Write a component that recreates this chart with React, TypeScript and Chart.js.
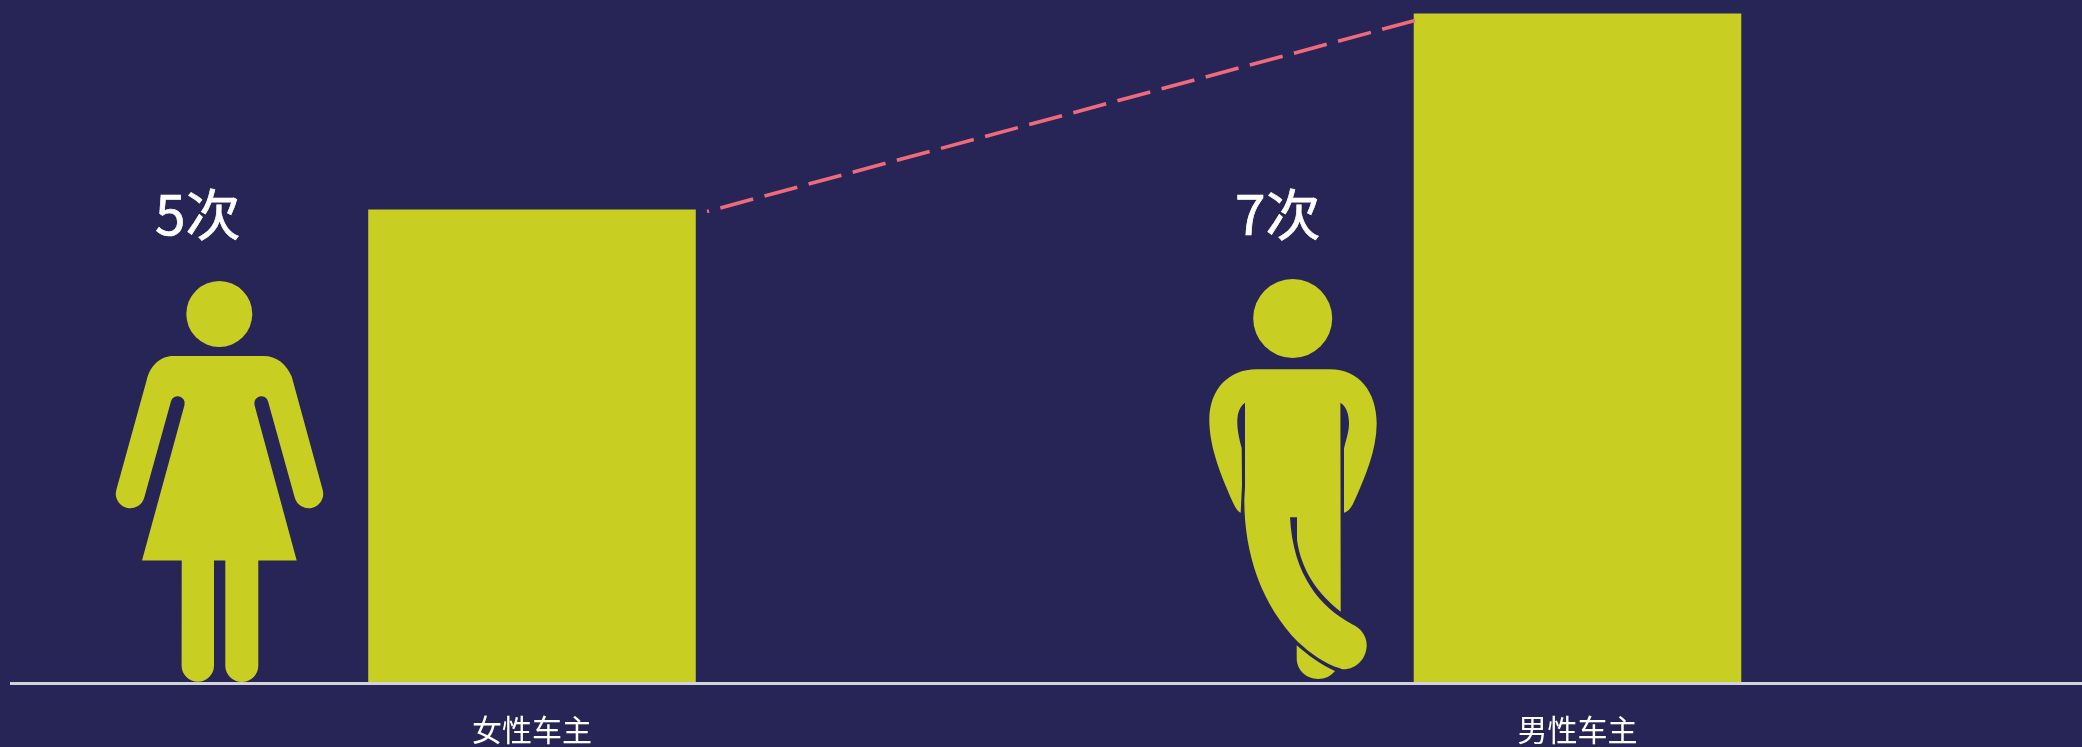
import React, { useEffect, useRef } from "react";
import { Chart, registerables } from "chart.js";

Chart.register(...registerables);

// ---- data ----
const categories = ["女性车主", "男性车主"];
const barValues = [4.95, 7.0];
const countLabels = ["5次", "7次"];
const connectorX = [0.1674, 0.8455];
const connectorY = [4.93, 6.93];

// ---- styling ----
const BG = "#272456";
const BAR = "#c8ce22";
const LINE = "#ef6b7c";
const AXIS = "#d2d2da";
const FONT = '"Noto Sans CJK SC", "Noto Sans", sans-serif';

// pictograms (page pixels)
const womanHead = { x: 219.3, y: 314, r: 33 };
const womanBody =
  "M173.3 356 L263.3 356 C277 356 286 364 291.7 376.6 L322.7 489.9 A14.5 14.5 0 0 1 294.7 497.5 L268 401.2 A7 7 0 0 0 254.5 404.9 L296.7 560.5 L258.3 560.5 L258.3 665.5 A16.5 16.5 0 0 1 225.3 665.5 L225.3 560.5 L214 560.5 L214 665.5 A16.2 16.2 0 0 1 181.6 665.5 L181.7 560.5 L142 560.5 L184.5 404.9 A7 7 0 0 0 171 401.2 L144.3 497.5 A14.5 14.5 0 0 1 116.3 489.9 L146.7 380 C150 366 160 356 173.3 356 Z";
const manHead = { x: 1292.7, y: 318.4, r: 39.5 };
const manBody =
  "M1256.7 369.3 C1228 369.3 1209.3 390 1209.3 420 C1209.3 448 1222 478 1233.3 503.3 C1235.5 508 1238 512 1240.7 512.7 L1242 485 L1241.7 448.3 C1239 438 1237.3 430 1237.3 421.7 C1237.3 413 1240 406 1245 402.7 L1245 487 L1244.3 500 C1244.3 555 1262 605 1298 642 C1310 653 1325 664 1340 668.3 C1341 669.2 1342 669.3 1343.3 669.3 C1357 669.3 1366.7 658 1366.7 645 C1366.7 636 1361 628 1351.7 624 C1320 607 1293 575 1290 517.3 L1297 517.3 L1297 540 C1301 570 1318 594 1340.7 611.7 L1340.4 402.7 C1346 406 1349 414 1349 423.3 C1349 432 1346 440 1344 448.3 L1344 512.7 C1348 512 1351 508 1353.3 503.3 C1365 478 1376.7 450 1376.7 423.3 C1376.7 392 1359 369.3 1330 369.3 Z";
const manFoot =
  "M1296.7 645.2 L1296.7 658.3 C1296.7 670 1306 679 1318.3 679 C1325 679 1331 676 1335 671 C1321 665 1308 655 1296.7 645.2 Z";
const countAnchors = [
  { x: 155, y: 235 },
  { x: 1235, y: 235 },
];

const decorPlugin = {
  id: "decor",
  afterDatasetsDraw(chart: any) {
    const ctx = chart.ctx as CanvasRenderingContext2D;
    ctx.save();
    ctx.fillStyle = BAR;
    for (const h of [womanHead, manHead]) {
      ctx.beginPath();
      ctx.arc(h.x, h.y, h.r, 0, Math.PI * 2);
      ctx.fill();
    }
    for (const p of [womanBody, manBody, manFoot]) ctx.fill(new Path2D(p));
    ctx.fillStyle = "#ffffff";
    ctx.strokeStyle = "#ffffff";
    ctx.lineWidth = 0.7;
    ctx.font = `400 55px ${FONT}`;
    ctx.textAlign = "left";
    ctx.textBaseline = "alphabetic";
    countLabels.forEach((t, i) => {
      ctx.fillText(t, countAnchors[i].x, countAnchors[i].y);
      ctx.strokeText(t, countAnchors[i].x, countAnchors[i].y);
    });
    ctx.restore();
  },
  afterDraw(chart: any) {
    // the baseline starts a little inside the page edge
    const ctx = chart.ctx as CanvasRenderingContext2D;
    ctx.save();
    ctx.fillStyle = BG;
    ctx.fillRect(0, 678, 10, 10);
    ctx.restore();
  },
};

export default function App() {
  const ref = useRef<HTMLCanvasElement>(null);
  useEffect(() => {
    document.body.style.background = BG;
    const chart = new Chart(ref.current as HTMLCanvasElement, {
      type: "bar",
      data: {
        labels: categories,
        datasets: [
          {
            type: "line",
            data: connectorX.map((x, i) => ({ x, y: connectorY[i] })),
            xAxisID: "xLine",
            yAxisID: "y",
            borderColor: LINE,
            borderWidth: 3.6,
            borderDash: [34, 11.7],
            borderDashOffset: 31.9,
            pointRadius: 0,
            tension: 0,
            fill: false,
            order: 0,
          } as any,
          {
            type: "bar",
            data: barValues,
            xAxisID: "x",
            yAxisID: "y",
            backgroundColor: BAR,
            borderWidth: 0,
            grouped: false,
            categoryPercentage: 1,
            barPercentage: 0.3133,
            order: 1,
          } as any,
        ],
      },
      options: {
        responsive: false,
        animation: false,
        layout: { padding: { left: 9.25, right: 0.75, top: 0, bottom: 0 } },
        plugins: { legend: { display: false }, tooltip: { enabled: false } },
        scales: {
          x: {
            type: "category",
            offset: true,
            afterFit(scale: any) {
              scale.height = 64;
            },
            grid: { display: false, drawTicks: false },
            border: { display: true, color: AXIS, width: 3, z: 1 },
            ticks: {
              color: "#ffffff",
              padding: 29,
              maxRotation: 0,
              autoSkip: false,
              font: { family: FONT, size: 30 },
            },
          },
          xLine: { type: "linear", display: false, offset: false, grid: { offset: false }, min: -0.5, max: 1.5 },
          y: { type: "linear", display: false, min: 0, max: 7.1414 },
        },
      } as any,
      plugins: [decorPlugin],
    });
    return () => chart.destroy();
  }, []);
  return (
    <div style={{ position: "fixed", left: 0, top: 0, width: 2082, height: 747, overflow: "hidden", background: BG }}>
      <canvas ref={ref} width={2101} height={747} style={{ display: "block" }} />
    </div>
  );
}
